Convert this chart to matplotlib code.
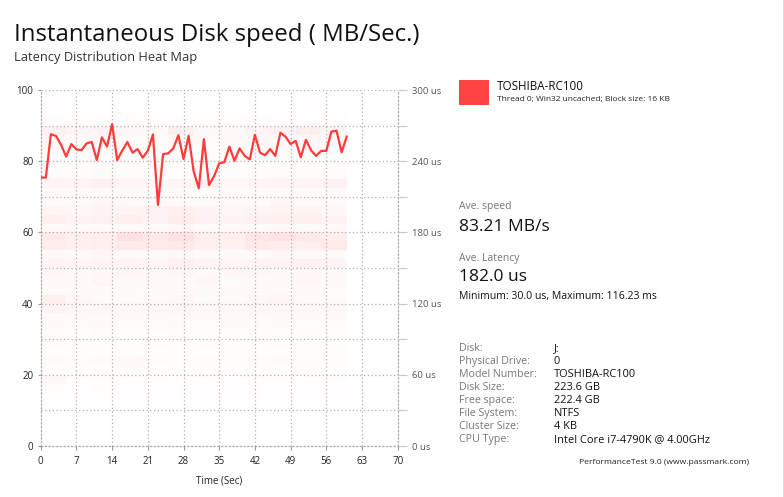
import matplotlib
matplotlib.use("Agg")
import matplotlib.pyplot as plt
import numpy as np
from matplotlib.colors import LinearSegmentedColormap
from matplotlib.ticker import FixedLocator

plt.rcParams['font.family'] = ['Open Sans', 'DejaVu Sans']

# ---------------- data ----------------
time_sec = list(range(0, 61))
speed_mbs = [75.4, 75.4, 87.6, 87.1, 84.6, 81.3, 84.8, 83.3, 83.1, 85.0,
             85.4, 80.3, 86.7, 84.1, 90.4, 80.3, 83.0, 85.4, 82.4, 83.4,
             81.0, 82.9, 87.5, 67.7, 82.0, 82.2, 83.6, 87.3, 80.6, 87.1,
             77.1, 72.4, 86.2, 73.3, 75.8, 79.4, 79.7, 84.1, 80.1, 83.6,
             81.5, 80.5, 87.4, 82.4, 81.7, 83.4, 81.5, 88.0, 86.9, 84.8,
             85.7, 81.1, 86.0, 83.1, 81.5, 82.9, 82.9, 88.3, 88.6, 82.5,
             86.9]

x_ticks = [0, 7, 14, 21, 28, 35, 42, 49, 56, 63, 70]
y_ticks = [0, 20, 40, 60, 80, 100]
latency_ticks_us = [0, 60, 120, 180, 240, 300]

# heat map: column edges (sec), row edges (speed units, top to bottom), intensity 0-100
heat_col_edges = [0, 5, 10, 15, 20, 25, 30, 35, 40, 45, 50, 55, 60]
heat_row_edges = [100, 97.5, 95, 92.5, 90, 87.5, 85, 82.5, 80, 77.5, 75, 72.5, 70,
                  67.5, 65, 62.5, 60, 57.5, 55, 52.5, 50, 47.5, 45, 42.5, 40,
                  37.5, 35, 32.5, 30, 27.5, 25, 22.5, 20, 17.5, 15, 12.5, 10]
heat_values = [
    [2, 2, 1, 2, 1, 2, 1, 1, 2, 1, 2, 1],
    [3, 2, 3, 2, 2, 3, 2, 2, 3, 2, 3, 2],
    [4, 3, 4, 3, 3, 4, 3, 4, 3, 4, 3, 3],
    [8, 6, 5, 6, 5, 6, 5, 6, 7, 6, 5, 6],
    [25, 20, 22, 15, 12, 28, 12, 10, 22, 25, 28, 20],
    [15, 12, 14, 10, 10, 15, 10, 12, 14, 12, 15, 12],
    [8, 10, 8, 6, 8, 10, 6, 8, 10, 12, 10, 8],
    [6, 8, 6, 5, 6, 8, 5, 6, 8, 8, 6, 6],
    [8, 6, 8, 6, 5, 6, 6, 5, 6, 8, 6, 5],
    [10, 8, 10, 8, 8, 6, 8, 6, 8, 10, 8, 8],
    [22, 20, 25, 18, 15, 20, 25, 15, 18, 22, 20, 25],
    [10, 12, 10, 8, 8, 10, 8, 10, 8, 10, 8, 10],
    [12, 10, 14, 12, 10, 12, 10, 12, 10, 14, 12, 10],
    [18, 15, 20, 22, 25, 28, 20, 15, 18, 20, 22, 15],
    [30, 22, 25, 32, 22, 35, 25, 20, 25, 30, 28, 22],
    [12, 10, 12, 10, 12, 15, 10, 12, 10, 12, 10, 12],
    [40, 30, 35, 55, 40, 50, 35, 30, 45, 50, 38, 35],
    [35, 30, 32, 40, 38, 42, 30, 25, 40, 35, 30, 38],
    [12, 10, 14, 12, 10, 14, 12, 10, 12, 14, 12, 10],
    [20, 18, 22, 20, 18, 25, 22, 18, 20, 22, 25, 20],
    [15, 12, 15, 18, 12, 15, 12, 14, 15, 12, 15, 12],
    [12, 10, 14, 10, 12, 10, 14, 10, 12, 10, 14, 12],
    [10, 12, 8, 10, 8, 12, 10, 8, 10, 12, 10, 8],
    [28, 15, 12, 10, 12, 14, 10, 12, 15, 18, 12, 10],
    [20, 15, 18, 14, 16, 18, 14, 15, 18, 15, 14, 16],
    [12, 10, 12, 10, 8, 12, 10, 12, 10, 12, 10, 8],
    [10, 8, 10, 8, 10, 8, 6, 8, 10, 8, 6, 8],
    [8, 6, 8, 6, 6, 8, 6, 6, 8, 6, 8, 6],
    [8, 6, 5, 6, 8, 5, 6, 5, 6, 8, 5, 6],
    [6, 5, 6, 5, 5, 6, 4, 5, 6, 5, 6, 5],
    [10, 8, 10, 12, 8, 6, 8, 6, 8, 10, 8, 6],
    [6, 5, 6, 5, 4, 6, 5, 4, 5, 6, 5, 4],
    [14, 6, 5, 6, 5, 4, 5, 4, 6, 5, 4, 5],
    [5, 4, 6, 4, 4, 3, 4, 3, 4, 4, 3, 4],
    [4, 3, 4, 3, 3, 3, 4, 3, 3, 3, 4, 3],
    [2, 2, 3, 2, 2, 2, 2, 2, 2, 2, 2, 2],
]

series_name = "TOSHIBA-RC100"
series_desc = "Thread 0; Win32 uncached; Block size: 16 KB"
ave_speed = "83.21 MB/s"
ave_latency = "182.0 us"
min_max = "Minimum: 30.0 us, Maximum: 116.23 ms"
info_labels = ["Disk:", "Physical Drive:", "Model Number:", "Disk Size:",
               "Free space:", "File System:", "Cluster Size:", "CPU Type:"]
info_values = ["J:", "0", "TOSHIBA-RC100", "223.6 GB", "222.4 GB", "NTFS",
               "4 KB", "Intel Core i7-4790K @ 4.00GHz"]

# ---------------- figure ----------------
W, H = 784, 497
fig = plt.figure(figsize=(W / 100, H / 100), dpi=100)
fig.patch.set_facecolor('white')

def fx(x):
    return x / W

def fy(y):
    return 1 - y / H

ax = fig.add_axes([fx(40.7), fy(446), (397.7 - 40.7) / W, (446 - 90) / H])

line_color = '#ff3b3b'
grid_color = '#b0b0b0'

cmap = LinearSegmentedColormap.from_list('pink', ['#ffffff', '#ffc8c8'])
ax.pcolormesh(heat_col_edges, heat_row_edges, np.array(heat_values),
              cmap=cmap, vmin=0, vmax=100, shading='flat', zorder=0.5)

ax.plot(time_sec, speed_mbs, color=line_color, lw=1.6, zorder=3,
        solid_joinstyle='round')

ax.set_xlim(0, 70)
ax.set_ylim(0, 100)
ax.xaxis.set_major_locator(FixedLocator(x_ticks))
ax.yaxis.set_major_locator(FixedLocator(y_ticks))
ax.yaxis.set_minor_locator(FixedLocator([10, 30, 50, 70, 90]))
ax.grid(True, which='both', color=grid_color, linestyle=(0, (1, 2)), lw=0.9, zorder=1)
ax.set_axisbelow(False)

for side in ['left', 'right', 'bottom']:
    ax.spines[side].set_color(grid_color)
    ax.spines[side].set_linestyle((0, (1, 2)))
    ax.spines[side].set_linewidth(0.9)
ax.spines['top'].set_visible(False)

ax.tick_params(axis='both', which='major', labelsize=7, colors='#222222',
               length=2.2, width=0.8, color='#999999', pad=3)
ax.tick_params(axis='y', which='minor', length=0)
ax.tick_params(axis='x', length=3, pad=4.5)
ax.set_xlabel("Time (Sec)", fontsize=7, color='#222222', labelpad=6)

ax2 = ax.twinx()
ax2.set_ylim(0, 300)
ax2.yaxis.set_major_locator(FixedLocator(latency_ticks_us))
ax2.yaxis.set_minor_locator(FixedLocator([30, 90, 150, 210, 270]))
ax2.set_yticklabels([f"{v} us" for v in latency_ticks_us])
ax2.tick_params(axis='y', which='both', length=6.5, width=0.8, color='#c8c8c8',
                labelsize=6.8, labelcolor='#555555', pad=4)
for s in ax2.spines.values():
    s.set_visible(False)

# ---------------- texts ----------------
fig.text(fx(14), fy(35), "Instantaneous Disk speed ( MB/Sec.)", fontsize=17.3,
         color='#111111', va='center', ha='left')
fig.text(fx(14), fy(58), "Latency Distribution Heat Map", fontsize=9.3,
         color='#333333', va='center', ha='left')

fig.patches.append(plt.Rectangle((fx(459), fy(105)), fx(489) - fx(459), fy(80) - fy(105),
                                 transform=fig.transFigure, facecolor='#ff4444',
                                 edgecolor='none'))
fig.text(fx(497), fy(87), series_name, fontsize=8.4, color='#111111', va='center')
fig.text(fx(497), fy(100), series_desc, fontsize=6, color='#222222', va='center')

fig.text(fx(459), fy(207), "Ave. speed", fontsize=7.5, color='#777777', va='center')
fig.text(fx(459), fy(227), ave_speed, fontsize=12.5, color='#111111', va='center')
fig.text(fx(459), fy(258), "Ave. Latency", fontsize=7.5, color='#777777', va='center')
fig.text(fx(459), fy(277), ave_latency, fontsize=12.5, color='#111111', va='center')
fig.text(fx(459), fy(297), min_max, fontsize=7.6, color='#111111', va='center')

for i, (lab, val) in enumerate(zip(info_labels, info_values)):
    y = 348.5 + i * 13
    fig.text(fx(459), fy(y), lab, fontsize=7.7, color='#777777', va='center')
    fig.text(fx(554), fy(y), val, fontsize=7.9, color='#111111', va='center')

fig.text(fx(664), fy(463), "PerformanceTest 9.0 (www.passmark.com)", fontsize=6.1,
         color='#222222', va='center', ha='center')

fig.add_artist(plt.Line2D([fx(783.5), fx(783.5)], [0, 1], transform=fig.transFigure,
                          color='#555555', lw=1))

fig.savefig("out.png", dpi=100, facecolor='white')
